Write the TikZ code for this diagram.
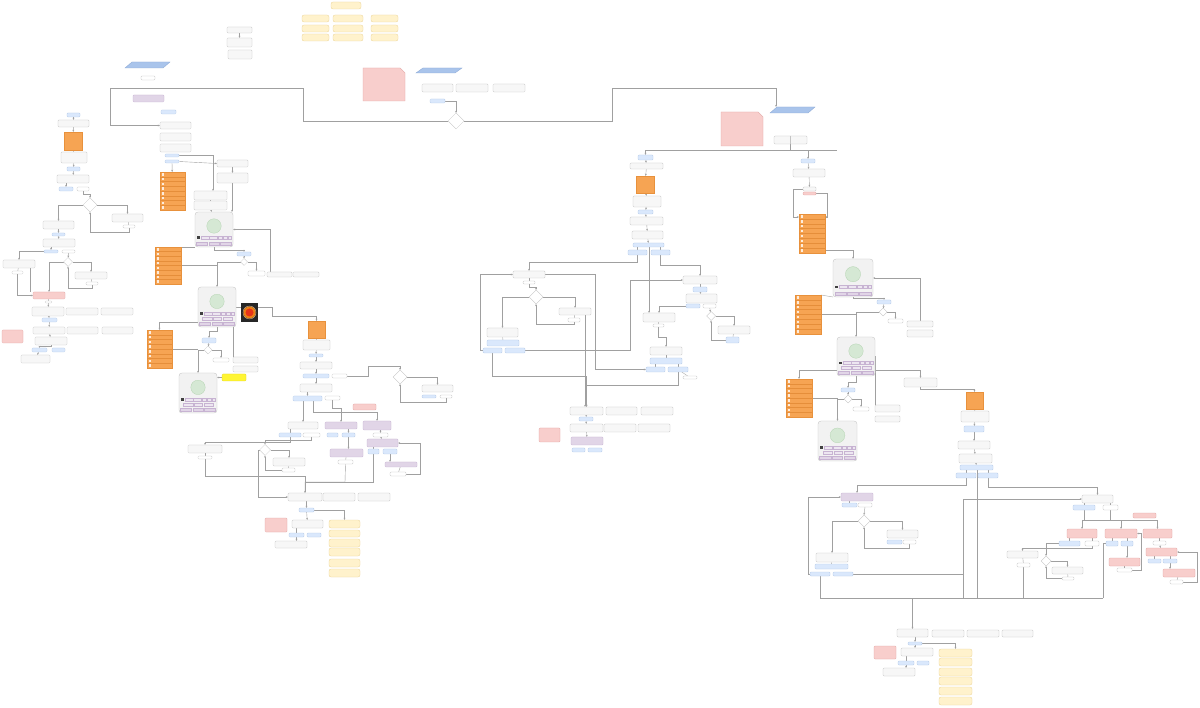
\documentclass[tikz,border=0pt]{standalone}
\usetikzlibrary{shapes.geometric,arrows.meta}
\definecolor{gfill}{HTML}{F7F7F7}
\definecolor{gline}{HTML}{C4C4C4}
\definecolor{bfill}{HTML}{DAE8FC}
\definecolor{bline}{HTML}{B3C9E8}
\definecolor{pfill}{HTML}{F8CECC}
\definecolor{pline}{HTML}{E3A6A4}
\definecolor{yfill}{HTML}{FFF2CC}
\definecolor{yline}{HTML}{EBD59A}
\definecolor{vfill}{HTML}{E1D5E7}
\definecolor{vline}{HTML}{C7B3D2}
\definecolor{ofill}{HTML}{F6A453}
\definecolor{oline}{HTML}{E8913C}
\definecolor{osep}{HTML}{E58E3A}
\definecolor{hyfill}{HTML}{FFF533}
\definecolor{hyline}{HTML}{E0D420}
\definecolor{phfill}{HTML}{F2F2F2}
\definecolor{greenf}{HTML}{D5E8D4}
\definecolor{greenl}{HTML}{B5D4B2}
\definecolor{parafill}{HTML}{A9C4EB}
\definecolor{paraline}{HTML}{8DAAD6}
\definecolor{linec}{HTML}{A0A0A0}
\pgfdeclarelayer{back}
\pgfdeclarelayer{bg}
\pgfsetlayers{back,bg,main}
\tikzset{
 base/.style={inner sep=0pt, outer sep=0pt, line width=0.35pt},
 gbox/.style={base, rectangle, rounded corners=1pt, fill=gfill, draw=gline},
 wbox/.style={base, rectangle, rounded corners=1pt, fill=white, draw=gline},
 bbox/.style={base, rectangle, rounded corners=1pt, fill=bfill, draw=bline},
 pbox/.style={base, rectangle, rounded corners=1pt, fill=pfill, draw=pline},
 ybox/.style={base, rectangle, rounded corners=2pt, fill=yfill, draw=yline},
 vbox/.style={base, rectangle, rounded corners=1pt, fill=vfill, draw=vline},
 obox/.style={base, rectangle, fill=ofill, draw=oline},
 hybox/.style={base, rectangle, rounded corners=1pt, fill=hyfill, draw=hyline},
 phonebox/.style={base, rectangle, rounded corners=3pt, fill=phfill, draw=gline},
 dia/.style={base, shape=diamond, aspect=1, fill=white, draw=gline},
 parab/.style={fill=parafill, draw=paraline, line width=0.35pt},
 conn/.style={draw=linec, line width=0.4pt, -{Stealth[length=2.2pt,width=1.8pt]}},
 plain/.style={draw=linec, line width=0.4pt},
 orsep/.style={draw=osep, line width=0.3pt},
}
\newcommand{\bx}[6]{\node[#2, minimum width={#5-#3}, minimum height={#6-#4}] (#1) at ({(#3+#5)/2},{(#4+#6)/2}) {};}
\newcommand{\dm}[4]{\node[dia, minimum size=#4] (#1) at (#2,#3) {};}
\newcommand{\paranode}[5]{%
 \filldraw[parab] (#2,#5) -- ({#2+7},#3) -- (#4,#3) -- ({#4-7},#5) -- cycle;
 \node[base, minimum width={#4-#2}, minimum height={#5-#3}] (#1) at ({(#2+#4)/2},{(#3+#5)/2}) {};}
\newcommand{\notebox}[5]{%
 \filldraw[fill=pfill, draw=pline, line width=0.35pt] (#2,#3) -- ({#4-5},#3) -- (#4,{#3+5}) -- (#4,#5) -- (#2,#5) -- cycle;
 \node[base, minimum width={#4-#2}, minimum height={#5-#3}] (#1) at ({(#2+#4)/2},{(#3+#5)/2}) {};}
\newcommand{\olist}[6]{%
 \node[obox, minimum width={#4-#2}, minimum height={#5-#3}] (#1) at ({(#2+#4)/2},{(#3+#5)/2}) {};
 \foreach \kk in {1,...,#6}{%
   \pgfmathsetmacro{\olY}{#3+(\kk-0.5)*(#5-#3)/#6}
   \fill[white, opacity=0.8] ({#2+1.5},{\olY-1.2}) rectangle ({#2+4},{\olY+1.2});
 }
 \foreach \kk in {1,...,#6}{%
   \pgfmathsetmacro{\olS}{#3+\kk*(#5-#3)/#6}
   \ifnum\kk<#6\relax \draw[orsep] (#2,\olS) -- (#4,\olS);\fi
 }}
\newcommand{\phonemock}[6]{%
 \pgfmathsetmacro{\phW}{#4-#2}%
 \pgfmathsetmacro{\phH}{#5-#3}%
 \node[phonebox, minimum width=\phW, minimum height=\phH] (#1) at ({(#2+#4)/2},{(#3+#5)/2}) {};
 \ifnum#6=1\relax
   \pgfmathsetmacro{\phC}{#3+0.40*\phH}\pgfmathsetmacro{\phA}{#3+0.70*\phH}\pgfmathsetmacro{\phB}{#3+0.70*\phH}
 \else
   \pgfmathsetmacro{\phC}{#3+0.36*\phH}\pgfmathsetmacro{\phA}{#3+0.63*\phH}\pgfmathsetmacro{\phB}{#3+0.755*\phH}
 \fi
 \pgfmathsetmacro{\phD}{#3+0.87*\phH}
 \filldraw[fill=greenf, draw=greenl, line width=0.3pt] ({(#2+#4)/2},\phC) circle[radius={0.19*\phW}];
 \fill[black!75] ({#2+0.05*\phW},\phA) rectangle ({#2+0.13*\phW},{\phA+0.075*\phH});
 \foreach \pa/\pb in {0.16/0.36,0.38/0.58,0.61/0.72,0.75/0.85,0.87/0.96}{%
   \filldraw[fill=vfill!60!white, draw=vline, line width=0.2pt] ({#2+\pa*\phW},\phA) rectangle ({#2+\pb*\phW},{\phA+0.075*\phH});}
 \ifnum#6=2\relax
 \foreach \pa/\pb in {0.12/0.36,0.40/0.62,0.66/0.90}{%
   \filldraw[fill=vfill!60!white, draw=vline, line width=0.2pt] ({#2+\pa*\phW},\phB) rectangle ({#2+\pb*\phW},{\phB+0.075*\phH});}
 \fi
 \foreach \pa/\pb in {0.04/0.33,0.36/0.63,0.66/0.96}{%
   \filldraw[fill=vfill, draw=vline, line width=0.2pt] ({#2+\pa*\phW},\phD) rectangle ({#2+\pb*\phW},{\phD+0.08*\phH});}
}
\begin{document}
\begin{tikzpicture}[x=1pt,y=-1pt]
\useasboundingbox (0,0) rectangle (1200,708);
\begin{pgfonlayer}{back}
\fill[white] (0,0) rectangle (1200,708);
\end{pgfonlayer}
% ---------------- top
\bx{title}{ybox}{331}{2}{361}{9}
\bx{y11}{ybox}{302}{15}{329}{22}\bx{y12}{ybox}{333}{15}{363}{22}\bx{y13}{ybox}{371}{15}{398}{22}
\bx{y21}{ybox}{302}{25}{329}{32}\bx{y22}{ybox}{333}{25}{363}{32}\bx{y23}{ybox}{371}{25}{398}{32}
\bx{y31}{ybox}{302}{34}{329}{41}\bx{y32}{ybox}{333}{34}{363}{41}\bx{y33}{ybox}{371}{34}{398}{41}
\bx{c1}{gbox}{227}{27}{252}{33}
\bx{c2}{gbox}{227}{38}{252}{47}
\bx{c3}{gbox}{228}{50}{252}{59}
\paranode{P1}{125}{62}{170}{68}
\bx{s1}{wbox}{141}{76}{155}{80}
\bx{lp}{vbox}{133}{95}{164}{102}
\bx{lb}{bbox}{161}{110}{176}{114}
\notebox{N1}{363}{68}{405}{101}
\paranode{P2}{416}{68}{462}{73}
\bx{ct1}{gbox}{422}{84}{453}{92}\bx{ct2}{gbox}{456}{84}{488}{92}\bx{ct3}{gbox}{493}{84}{525}{92}
\bx{cb}{bbox}{430}{99}{445}{103}
\dm{D0}{456}{121}{16}
\paranode{P3}{770}{107}{815}{113}
\notebox{N2}{721}{112}{763}{146}
\bx{rs}{gbox}{774}{136}{807}{144}
\draw[gline, line width=0.35pt] (790,136) -- (790,144);
\coordinate (rEnd) at (837,150);
% ---------------- far left column
\bx{L1}{bbox}{67}{113}{80}{117}
\bx{L2}{gbox}{58}{120}{89}{127}
\bx{L3}{obox}{64}{132}{82}{150}
\bx{L4}{gbox}{61}{152}{87}{163}
\bx{L5}{bbox}{67}{167}{80}{171}
\bx{L6}{gbox}{57}{175}{89}{183}
\bx{L7}{bbox}{59}{187}{73}{191}
\bx{L8}{wbox}{77}{187}{89}{191}
\dm{LD1}{90}{205}{14}
\bx{L9}{gbox}{43}{221}{74}{229}
\bx{L10}{gbox}{112}{214}{143}{222}
\bx{L11}{wbox}{123}{225}{135}{228}
\bx{L12}{bbox}{52}{233}{65}{236}
\bx{L13}{gbox}{43}{239}{75}{247}
\bx{L14}{bbox}{44}{250}{58}{253}
\bx{L15}{wbox}{62}{250}{75}{253}
\dm{LD2}{68}{262}{9}
\bx{L16}{gbox}{3}{260}{35}{268}
\bx{L17}{wbox}{12}{271}{23}{274}
\bx{L18}{gbox}{75}{272}{107}{279}
\bx{L19}{wbox}{86}{282}{98}{285}
\bx{L20}{pbox}{33}{292}{65}{299}
\bx{L21}{wbox}{45}{301}{52}{303}
\bx{L22}{gbox}{32}{307}{64}{316}\bx{L23}{gbox}{66}{308}{98}{315}\bx{L24}{gbox}{101}{308}{133}{315}
\bx{L25}{bbox}{42}{318}{57}{322}
\bx{L26}{gbox}{33}{327}{65}{334}\bx{L27}{gbox}{67}{327}{98}{334}\bx{L28}{gbox}{102}{327}{133}{334}
\bx{L29}{pbox}{2}{330}{23}{343}
\bx{L30}{gbox}{35}{337}{67}{345}
\bx{L31}{bbox}{32}{348}{47}{352}\bx{L32}{bbox}{52}{348}{65}{352}
\bx{L33}{gbox}{21}{355}{50}{363}
% ---------------- middle-left
\bx{M1}{gbox}{160}{122}{191}{129}
\bx{M2}{gbox}{160}{133}{191}{141}
\bx{M3}{gbox}{160}{144}{191}{152}
\bx{M4}{bbox}{165}{154}{179}{157}
\bx{M5}{bbox}{165}{160}{179}{163}
\olist{ML1}{160}{172}{185}{210}{8}
\bx{M6}{gbox}{217}{160}{248}{167}
\bx{M7}{gbox}{217}{173}{248}{183}
\bx{M8}{gbox}{194}{191}{227}{200}
\bx{M9}{gbox}{194}{201}{227}{210}
\phonemock{PH1}{195}{212}{233}{247}{1}
\olist{ML2}{155}{247}{181}{284}{8}
\bx{M10}{bbox}{237}{252}{251}{256}
\dm{MD1}{244}{262}{7}
\bx{M11}{wbox}{248}{271}{265}{276}
\bx{M12}{gbox}{267}{272}{292}{277}
\bx{M13}{gbox}{293}{272}{319}{277}
\phonemock{PH2}{198}{287}{236}{327}{2}
\node[base, fill=black!85, minimum width=17, minimum height=19] (IMG) at (249.5,312.5) {};
\fill[orange!70!brown] (IMG.center) circle[radius=6];
\fill[red!60!brown] (IMG.center) circle[radius=4];
\draw[orange!40!white, line width=0.3pt] (IMG.center) circle[radius=6.5];
\bx{M14}{obox}{308}{321}{325}{338}
\bx{M15}{gbox}{303}{340}{330}{350}
\bx{M16}{bbox}{309}{354}{323}{357}
\bx{M17}{gbox}{300}{362}{332}{369}
\bx{M18}{bbox}{303}{374}{329}{378}
\bx{M19}{wbox}{332}{374}{347}{378}
\dm{MD2}{400}{377}{14}
\bx{M20}{gbox}{422}{385}{453}{392}
\bx{M21}{bbox}{422}{395}{436}{398}
\bx{M22}{wbox}{440}{395}{452}{398}
\bx{M23}{gbox}{300}{384}{332}{392}
\bx{M24}{bbox}{293}{396}{322}{401}
\bx{M25}{wbox}{325}{396}{340}{400}
\bx{M26}{pbox}{353}{404}{376}{410}
\bx{M27}{gbox}{288}{422}{318}{429}
\bx{M28}{vbox}{325}{422}{357}{429}
\bx{M29}{vbox}{363}{421}{391}{430}
\bx{M30}{bbox}{279}{433}{301}{437}
\bx{M31}{wbox}{303}{433}{320}{437}
\bx{M32}{bbox}{327}{433}{338}{437}
\bx{M33}{bbox}{342}{433}{355}{437}
\bx{M34}{wbox}{373}{433}{388}{437}
\bx{M35}{vbox}{367}{439}{398}{447}
\bx{M36}{bbox}{368}{449}{379}{454}
\bx{M37}{bbox}{383}{449}{397}{454}
\bx{M38}{vbox}{330}{449}{363}{457}
\bx{M39}{wbox}{338}{460}{353}{464}
\bx{M40}{vbox}{385}{462}{417}{467}
\bx{M41}{wbox}{390}{472}{406}{476}
\bx{M42}{gbox}{188}{445}{222}{453}
\bx{M43}{wbox}{198}{456}{212}{459}
\dm{MD3}{265}{450}{11}
\bx{M44}{gbox}{273}{458}{305}{466}
\bx{M45}{wbox}{282}{468}{295}{472}
\bx{M46}{gbox}{288}{493}{322}{501}
\bx{M47}{gbox}{323}{493}{355}{501}
\bx{M48}{gbox}{358}{493}{390}{501}
\bx{M49}{bbox}{299}{508}{314}{512}
\bx{M50}{pbox}{265}{518}{287}{532}
\bx{M51}{gbox}{292}{520}{323}{528}
\bx{M52}{bbox}{289}{533}{304}{537}
\bx{M53}{bbox}{307}{533}{321}{537}
\bx{M54}{gbox}{275}{541}{307}{548}
\bx{MY1}{ybox}{329}{520}{360}{528}
\bx{MY2}{ybox}{329}{530}{360}{537}
\bx{MY3}{ybox}{329}{539}{360}{547}
\bx{MY4}{ybox}{329}{548}{360}{556}
\bx{MY5}{ybox}{329}{559}{360}{567}
\bx{MY6}{ybox}{329}{569}{360}{577}
\olist{ML3}{147}{330}{172}{368}{8}
\bx{M55}{bbox}{202}{338}{216}{343}
\dm{MD4}{208}{350}{8}
\bx{M56}{wbox}{213}{358}{229}{362}
\bx{M57}{gbox}{233}{357}{258}{363}
\bx{M58}{gbox}{233}{366}{258}{372}
\bx{M59}{hybox}{222}{374}{246}{381}
\phonemock{PH3}{179}{373}{217}{413}{2}
% ---------------- centre
\bx{C1}{bbox}{638}{155}{653}{160}
\bx{C2}{gbox}{630}{163}{663}{169}
\bx{C3}{obox}{636}{176}{654}{193}
\bx{C4}{gbox}{633}{196}{661}{207}
\bx{C5}{bbox}{638}{210}{653}{214}
\bx{C6}{gbox}{630}{217}{663}{225}
\bx{C7}{gbox}{632}{231}{663}{239}
\bx{C8}{bbox}{633}{243}{664}{247}
\bx{C9}{bbox}{628}{250}{647}{255}
\bx{C10}{bbox}{651}{250}{670}{255}
\bx{C11}{gbox}{513}{271}{545}{278}
\bx{C12}{wbox}{523}{281}{535}{284}
\dm{CD1}{536}{297}{14}
\bx{C13}{gbox}{487}{328}{518}{337}
\bx{C14}{bbox}{487}{340}{519}{346}
\bx{C15}{bbox}{483}{348}{502}{353}
\bx{C16}{bbox}{505}{348}{525}{353}
\bx{C17}{gbox}{559}{308}{591}{315}
\bx{C18}{wbox}{568}{318}{580}{322}
\bx{C19}{gbox}{683}{276}{717}{284}
\bx{C20}{bbox}{693}{287}{707}{292}
\bx{C21}{gbox}{686}{294}{717}{303}
\bx{C22}{bbox}{686}{304}{700}{308}
\bx{C23}{wbox}{703}{304}{716}{308}
\bx{C24}{gbox}{643}{313}{675}{322}
\bx{C25}{wbox}{653}{324}{664}{327}
\dm{CD2}{711}{316}{9}
\bx{C26}{gbox}{718}{326}{750}{334}
\bx{C27}{bbox}{726}{337}{739}{343}
\bx{C28}{gbox}{650}{347}{682}{355}
\bx{C29}{bbox}{650}{358}{682}{364}
\bx{C30}{bbox}{646}{367}{665}{372}
\bx{C31}{bbox}{668}{367}{688}{372}
\bx{C32}{wbox}{683}{376}{697}{379}
\bx{C33}{gbox}{570}{407}{603}{415}\bx{C34}{gbox}{606}{407}{637}{415}\bx{C35}{gbox}{641}{407}{673}{415}
\bx{C36}{bbox}{579}{417}{593}{421}
\bx{C37}{gbox}{570}{424}{603}{432}\bx{C38}{gbox}{604}{424}{636}{432}\bx{C39}{gbox}{638}{424}{670}{432}
\bx{C40}{pbox}{539}{428}{560}{442}
\bx{C41}{vbox}{571}{437}{603}{445}
\bx{C42}{bbox}{572}{448}{585}{452}\bx{C43}{bbox}{588}{448}{602}{452}
% ---------------- right
\bx{R1}{bbox}{801}{159}{815}{163}
\bx{R2}{gbox}{793}{169}{825}{177}
\bx{R3}{gbox}{803}{187}{816}{191}
\bx{R4}{pbox}{803}{192}{816}{195}
\olist{RL1}{799}{214}{825}{253}{8}
\phonemock{PH4}{833}{259}{873}{297}{1}
\olist{RL2}{795}{295}{821}{334}{8}
\bx{R5}{bbox}{877}{300}{891}{304}
\dm{RD1}{883}{312}{8}
\bx{R6}{wbox}{888}{319}{903}{323}
\bx{R7}{gbox}{907}{321}{933}{327}
\bx{R8}{gbox}{907}{330}{933}{337}
\phonemock{PH5}{837}{337}{875}{376}{2}
\olist{RL3}{786}{379}{812}{417}{8}
\bx{R9}{bbox}{841}{388}{855}{392}
\dm{RD2}{848}{399}{8}
\bx{R10}{wbox}{853}{407}{869}{411}
\bx{R11}{gbox}{875}{405}{900}{412}
\bx{R12}{gbox}{875}{416}{900}{422}
\phonemock{PH6}{818}{421}{857}{461}{2}
\bx{R13}{gbox}{904}{378}{937}{387}
\bx{R14}{obox}{966}{392}{983}{409}
\bx{R15}{gbox}{961}{411}{989}{422}
\bx{R16}{bbox}{964}{426}{984}{432}
\bx{R17}{gbox}{958}{441}{990}{449}
\bx{R18}{gbox}{959}{454}{992}{463}
\bx{R19}{bbox}{960}{465}{993}{470}
\bx{R20}{bbox}{956}{473}{976}{478}
\bx{R21}{bbox}{978}{473}{998}{478}
\bx{R22}{vbox}{841}{493}{873}{501}
\bx{R23}{bbox}{842}{503}{857}{507}
\bx{R24}{wbox}{858}{503}{872}{507}
\dm{RD3}{864}{521}{12}
\bx{R25}{gbox}{816}{553}{848}{562}
\bx{R26}{bbox}{815}{564}{848}{569}
\bx{R27}{bbox}{810}{572}{830}{576}
\bx{R28}{bbox}{833}{572}{853}{576}
\bx{R29}{gbox}{887}{530}{918}{538}
\bx{R30}{bbox}{887}{540}{902}{544}
\bx{R31}{wbox}{903}{540}{916}{544}
\bx{R32}{gbox}{1082}{495}{1113}{503}
\bx{R33}{bbox}{1073}{505}{1095}{510}
\bx{R34}{wbox}{1103}{505}{1118}{510}
\bx{R35}{pbox}{1133}{513}{1156}{518}
\bx{R36}{pbox}{1067}{529}{1097}{538}
\bx{R37}{pbox}{1105}{529}{1137}{538}
\bx{R38}{pbox}{1143}{529}{1172}{538}
\bx{R39}{bbox}{1059}{541}{1080}{546}
\bx{R40}{wbox}{1085}{541}{1099}{546}
\bx{R41}{bbox}{1106}{541}{1118}{546}
\bx{R42}{bbox}{1121}{541}{1133}{546}
\bx{R43}{wbox}{1153}{541}{1166}{545}
\bx{R44}{pbox}{1146}{548}{1177}{556}
\bx{R45}{bbox}{1148}{559}{1161}{563}
\bx{R46}{bbox}{1163}{559}{1177}{563}
\bx{R47}{pbox}{1109}{558}{1140}{566}
\bx{R48}{wbox}{1117}{568}{1132}{572}
\bx{R49}{pbox}{1163}{569}{1195}{577}
\bx{R50}{wbox}{1170}{580}{1183}{584}
\bx{R51}{gbox}{1007}{551}{1038}{558}
\bx{R52}{wbox}{1017}{563}{1030}{567}
\dm{RD4}{1046}{561}{10}
\bx{R53}{gbox}{1052}{567}{1083}{574}
\bx{R54}{wbox}{1062}{577}{1074}{580}
\coordinate (j1) at (963,598);
% ---------------- bottom
\bx{B1}{gbox}{897}{629}{928}{637}\bx{B2}{gbox}{932}{630}{964}{637}\bx{B3}{gbox}{967}{630}{999}{637}\bx{B4}{gbox}{1002}{630}{1033}{637}
\bx{B5}{bbox}{908}{642}{922}{645}
\bx{B6}{pbox}{874}{646}{896}{659}
\bx{B7}{gbox}{901}{648}{933}{656}
\bx{B8}{bbox}{898}{661}{914}{665}\bx{B9}{bbox}{917}{661}{929}{665}
\bx{B10}{gbox}{883}{668}{915}{676}
\bx{BY1}{ybox}{939}{649}{972}{657}
\bx{BY2}{ybox}{939}{658}{972}{666}
\bx{BY3}{ybox}{939}{668}{972}{676}
\bx{BY4}{ybox}{939}{677}{972}{685}
\bx{BY5}{ybox}{939}{687}{972}{695}
\bx{BY6}{ybox}{939}{697}{972}{705}
% ================= connectors
\begin{pgfonlayer}{bg}
\draw[conn] (c1) -- (c2);
\draw[conn] (cb.east) -| (D0.north);
\draw[conn] (D0.west) -- (303,121) |- (110,88) |- (M1.west);
\draw[conn] (D0.east) -- (612,121) |- (776,88) -- (776,0 |- P3.north);
\draw[conn] (rs.south) -- ++(0,6) -| (C1.north);
\draw[conn] (rs.south) -- ++(0,6) -| (R1.north);
\draw[plain] (R1.north |- 0,150) -- (rEnd);
% far left
\draw[conn] (L1) -- (L2);
\draw[conn] (L2) -- (L3);
\draw[conn] (L3) -- (L4);
\draw[conn] (L4) -- (L5);
\draw[conn] (L5) -- (L6);
\draw[conn] (L6.south -| L7.north) -- (L7.north);
\draw[conn] (L8.south) -- ++(0,3) -| (LD1.north);
\draw[conn] (LD1.west) -| (L9.north);
\draw[conn] (LD1.east) -| (L10.north);
\draw[plain] (L10) -- (L11);
\draw[conn] (L11.south) -- ++(0,4) -| (LD1.south);
\draw[conn] (L9) -- (L12);
\draw[conn] (L12) -- (L13);
\draw[conn] (L13.south -| L14.north) -- (L14.north);
\draw[conn] (L15) -- (LD2);
\draw[conn] (L14.west) -| (L16.north);
\draw[conn] (LD2.east) -| (L18.north);
\draw[plain] (L18) -- (L19);
\draw[conn] (L19.south) -- ++(0,3) -| (LD2.south);
\draw[conn] (LD2.west) -| (L20.north);
\draw[plain] (L16) -- (L17);
\draw[conn] (L17.south) |- (L20.west);
\draw[plain] (L16.south -| 30,0) -- (30,292);
\draw[plain] (L20) -- (L21);
\draw[conn] (L21) -- (L22);
\draw[conn] (L22) -- (L25);
\draw[conn] (L25) -- (L26);
\draw[conn] (L26) -- (L30);
\draw[conn] (L30.south) -- ++(0,1.5) -| (L31.north);
\draw[conn] (L31) -- (L33);
% middle-left
\draw[conn] (M4.east) -| (213,0 |- M8.north);
\draw[conn] (M5.east) -- (M6.west);
\draw[conn] (M5) -- (ML1);
\draw[conn] (M6) -- (M7);
\draw[conn] (232,0 |- M7.south) -- (232,0 |- PH1.north);
\draw[plain] (M8) -- (M9);
\draw[conn] (M9) -- (PH1);
\draw[conn] (M12.north -| 270,0) -- (270,229.5) -- (PH1.east);
\draw[plain] (PH1.south west) -- (ML2.north east);
\draw[conn] (PH1.south) -- ++(0,3) -| (M10.north);
\draw[conn] (M10) -- (MD1);
\draw[conn] (MD1.west) -| (PH2.north);
\draw[conn] (MD1.east) -| (M11.north);
\draw[plain] (ML2.east) -- (ML2.east -| PH2.north);
\draw[conn] (PH2.east) -- (272,307) -- (272,316) -| (M14.north);
\draw[conn] (M14) -- (M15);
\draw[conn] (M15) -- (M16);
\draw[conn] (M16) -- (M17);
\draw[conn] (M17) -- (M18);
\draw[conn] (M18) -- (M23);
\draw[conn] (M23.south -| M24.north) -- (M24.north);
\draw[conn] (M19.east) -- (368,376) -- (368,366) -| (MD2.north);
\draw[conn] (MD2.east) -| (M20.north);
\draw[conn] (M22.south) -- ++(0,4) -| (MD2.south);
\draw[conn] (M24.south -| M27.north) -- (M27.north);
\draw[conn] (313,0 |- M24.south) -- (313,412) -| (M29.north);
\draw[conn] (M25.south) -- ++(0,8) -| (M28.north);
\draw[plain] (M27.south -| M30.north) -- (M30.north);
\draw[conn] (M28.south -| M33.north) -- (M33.north);
\draw[conn] (M29.south -| M34.north) -- (M34.north);
\draw[conn] (M34) -- (M35);
\draw[plain] (M35.south -| M36.north) -- (M36.north);
\draw[conn] (M33.south) -- (M33.south |- M38.north);
\draw[plain] (M38) -- (M39);
\draw[conn] (M37.south) -- (M37.south |- M40.north);
\draw[plain] (M40) -- (M41);
\draw[conn] (M41.east) -- (420,474) -- (420,443) -- (M35.east);
\draw[conn] (M30.south) -- ++(0,5) -| (M42.north);
\draw[conn] (M31.south) -- ++(0,3) -| (MD3.north);
\draw[conn] (MD3.east) -| (M44.north);
\draw[plain] (M44) -- (M45);
\draw[conn] (M45.west) -| (MD3.south);
\draw[conn] (MD3.west) -- (258,450) |- (M46.west);
\draw[plain] (M42) -- (M43);
\draw[conn] (M43.south) -- (205,476) -| (M46.north);
\draw[plain] (M39.south) -- (345,482) -| (M46.north);
\draw[plain] (M36.south) |- (M46.north |- 0,482);
\draw[conn] (M46.south -| M49.north) -- (M49.north);
\draw[conn] (M49.east) -| (MY1.north);
\draw[conn] (M49) -- (M51);
\draw[plain] (M51.south -| M52.north) -- (M52.north);
\draw[conn] (M52.south) -- (M52.south |- M54.north);
\draw[conn] (PH2.west |- 0,322) -| (ML3.north);
\draw[conn] (PH2.south) -- ++(0,4) -| (M55.north);
\draw[conn] (M55) -- (MD4);
\draw[conn] (MD4.west) -| (PH3.north);
\draw[conn] (MD4.east) -| (M56.north);
\draw[plain] (ML3.east) -- (ML3.east -| PH3.north);
\draw[plain] (M57.north west) -- (M57.north west |- PH2.south);
\draw[conn] (M59.west) -- (M59.west -| PH3.east);
% centre
\draw[conn] (C1) -- (C2);
\draw[conn] (C2) -- (C3);
\draw[conn] (C3) -- (C4);
\draw[conn] (C4) -- (C5);
\draw[conn] (C5) -- (C6);
\draw[conn] (C6) -- (C7);
\draw[conn] (C7) -- (C8);
\draw[plain] (C8.south -| C9.north) -- (C9.north);
\draw[plain] (C8.south -| C10.north) -- (C10.north);
\draw[conn] (C9.south) -- ++(0,7) -| (C11.north);
\draw[plain] (C11) -- (C12);
\draw[conn] (C12.south) -- ++(0,3) -| (CD1.north);
\draw[conn] (CD1.west) -| (C13.north);
\draw[conn] (CD1.east) -| (C17.north);
\draw[plain] (C17) -- (C18);
\draw[conn] (C18.south) -- ++(0,2) -| (CD1.south);
\draw[plain] (C13) -- (C14);
\draw[conn] (C15.west) -- (480,350.5) |- (C11.west);
\draw[conn] (C11.east) -- (595,274.5) |- (C30.west);
\draw[conn] (C16.east) -- (630,350.5) |- (C19.west);
\draw[conn] (C10.south) -- ++(0,10) -| (C19.north);
\draw[plain] (C19) -- (C20);
\draw[conn] (C20) -- (C21);
\draw[conn] (C22.west) -| (C24.north);
\draw[conn] (C8.south -| 649,0) -- (C24.north -| 649,0);
\draw[conn] (C23) -- (CD2);
\draw[conn] (CD2.east) -| (C26.north);
\draw[plain] (C26) -- (C27);
\draw[conn] (C27.west) -| (CD2.south);
\draw[plain] (C24) -- (C25);
\draw[conn] (C25.south) -- ++(0,10) -| (C28.north);
\draw[plain] (C28) -- (C29);
\draw[plain] (C29.south -| C30.north) -- (C30.north);
\draw[plain] (C29.south -| C31.north) -- (C31.north);
\draw[plain] (C31) -- (C32);
\draw[conn] (C15.south) -- (492.5,376) -| (C33.north);
\draw[conn] (C31.south) -- (678,385) -| (C33.north);
\draw[conn] (C17.south -| 585,0) -- (585,0 |- C33.north);
\draw[conn] (C33) -- (C36);
\draw[conn] (C36) -- (C37);
\draw[conn] (C37) -- (C41);
% right
\draw[conn] (R1) -- (R2);
\draw[conn] (R2) -- (R3);
\draw[conn] (R3.west) -- (793,189) -- (793,217) -- (RL1.west |- 0,217);
\draw[conn] (R4.east) -- (827,193.5) -- (827,217) -- (RL1.east |- 0,217);
\draw[conn] (RL1.east |- 0,250) -- (853,250) -- (PH4.north);
\draw[conn] (R7.north) |- (PH4.east);
\draw[plain] (PH4.south west) -- (RL2.north east);
\draw[conn] (PH4.south) -- ++(0,1.5) -| (R5.north);
\draw[conn] (R5) -- (RD1);
\draw[conn] (RD1.west) -| (PH5.north);
\draw[conn] (RD1.east) -| (R6.north);
\draw[plain] (RL2.east) -- (RL2.east -| PH5.north);
\draw[conn] (PH5.west |- 0,370) -| (RL3.north);
\draw[conn] (PH5.east |- 0,370) -| (R13.north);
\draw[conn] (PH5.south) -- ++(0,6) -| (R9.north);
\draw[conn] (R9) -- (RD2);
\draw[conn] (RD2.west) -| (PH6.north);
\draw[conn] (RD2.east) -| (R10.north);
\draw[plain] (R11.north west) -- (R11.north west |- PH5.east);
\draw[plain] (RL3.east) -- (RL3.east -| PH6.north);
\draw[conn] (R13.south) -- ++(0,2) -| (R14.north);
\draw[conn] (R14) -- (R15);
\draw[conn] (R15) -- (R16);
\draw[conn] (R16) -- (R17);
\draw[conn] (R17) -- (R18);
\draw[conn] (R18) -- (R19);
\draw[plain] (R19.south -| R20.north) -- (R20.north);
\draw[plain] (R19.south -| R21.north) -- (R21.north);
\draw[conn] (R20.south) -- ++(0,7) -| (R22.north);
\draw[conn] (R21.south) -- ++(0,9) -| (R32.north);
\draw[plain] (R22.south -| R23.north) -- (R23.north);
\draw[conn] (R24.south) -- (RD3.north);
\draw[conn] (RD3.west) -| (R25.north);
\draw[conn] (RD3.east) -| (R29.north);
\draw[conn] (R31.south) -- ++(0,4) -| (RD3.south);
\draw[plain] (R25) -- (R26);
\draw[conn] (R27.west) -- (808,574) |- (R22.west);
\draw[plain] (R28.east) -- (963,574);
\draw[conn] (j1) -- (963,499) -- (R32.west);
\draw[plain] (R19.south -| 977,0) -- (977,598);
\draw[plain] (R32.south -| R33.north) -- (R33.north);
\draw[plain] (R32.south -| R34.north) -- (R34.north);
\draw[conn] (R33.south) -- ++(0,10) -| (R36.north);
\draw[conn] (R34.south) -- ++(0,10) -| (R37.north);
\draw[conn] (R33.south) -- ++(0,10) -| (R38.north);
\draw[plain] (R36.south -| R39.north) -- (R39.north);
\draw[plain] (R36.south -| R40.north) -- (R40.north);
\draw[plain] (R37.south -| R41.north) -- (R41.north);
\draw[plain] (R37.south -| R42.north) -- (R42.north);
\draw[plain] (R38.south -| R43.north) -- (R43.north);
\draw[conn] (R43) -- (R44);
\draw[plain] (R44.south -| R45.north) -- (R45.north);
\draw[plain] (R44.south -| R46.north) -- (R46.north);
\draw[conn] (R42.south) -- (R42.south |- R47.north);
\draw[plain] (R47) -- (R48);
\draw[conn] (R48.east) -- (1141,570) -- (1141,533.5) -- (R37.east);
\draw[conn] (R46.south) -- (R46.south |- R49.north);
\draw[plain] (R49) -- (R50);
\draw[conn] (R50.east) -- (1197,582) -- (1197,552) -- (R44.east);
\draw[conn] (R40.south) -- ++(0,2) -| (R51.north);
\draw[conn] (R39.west) -| (RD4.north);
\draw[conn] (RD4.east) -| (R53.north);
\draw[plain] (R53) -- (R54);
\draw[conn] (R54.west) -| (RD4.south);
\draw[plain] (R51) -- (R52);
\draw[plain] (R52.south) -- (R52.south |- 0,598);
\draw[plain] (R41.west) -- (1103,543.5) -- (1103,598);
\draw[plain] (1103,598) -- (B1.north |- 0,598);
\draw[conn] (R27.south) |- (B1.north |- 0,598) -- (B1.north);
% bottom
\draw[conn] (B1.south -| B5.north) -- (B5.north);
\draw[conn] (B5.east) -| (BY1.north);
\draw[conn] (B5.south) -- (B5.south |- B7.north);
\draw[plain] (B7.south -| B8.north) -- (B8.north);
\draw[conn] (B8.south) -- (B8.south |- B10.north);
\end{pgfonlayer}
\end{tikzpicture}
\end{document}
